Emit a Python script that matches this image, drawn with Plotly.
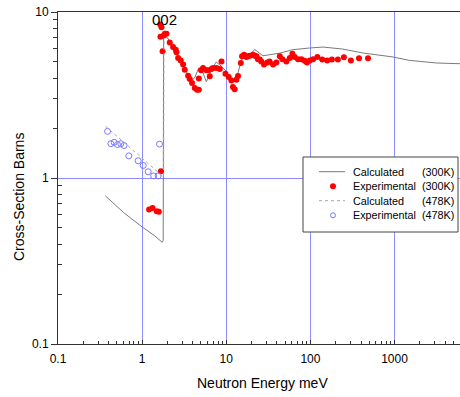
import math
import plotly.graph_objects as go

# ---------------- data ----------------
calc300_x = [0.366, 0.6, 1.0, 1.4, 1.73, 1.78, 1.80, 1.86, 2.0, 2.3, 2.6, 3.0, 3.5, 3.9,
             4.2, 4.7, 5.1, 5.8, 6.7, 7.6, 8.8, 10.0, 11.0, 12.0, 13.8, 15.1, 16.6,
             18.2, 19.0, 21.8, 23.8, 27.3, 43.3, 62.0, 98.2, 141, 243, 423, 956,
             1508, 3155, 6000]
calc300_y = [0.78, 0.62, 0.507, 0.45, 0.41, 0.42, 7.5, 7.2, 7.0, 6.2, 5.6, 4.9, 4.2, 3.9,
             4.0, 4.6, 4.5, 3.8, 4.5, 5.0, 4.7, 4.4, 4.0, 3.85, 4.3, 5.1, 5.65,
             5.45, 5.5, 5.95, 5.75, 5.45, 5.65, 5.93, 6.07, 6.15, 5.98, 5.66, 5.36,
             5.11, 4.93, 4.88]

exp300_x = [1.21, 1.33, 1.49, 1.58, 1.67, 1.64, 1.70, 1.65, 1.75, 1.81, 1.86, 1.95, 2.13,
            2.33, 2.51, 2.56, 2.68, 2.88, 3.07, 3.21, 3.52, 3.68, 3.92, 4.22, 4.5,
            4.72, 4.72, 5.02, 5.3, 5.82, 6.08, 6.37, 6.67, 6.97, 7.64, 8.38, 8.77,
            9.78, 10.7, 11.5, 12.0, 12.6, 13.2, 13.8, 14.9, 15.4, 16.3, 17.4, 18.1,
            19.0, 20.8, 21.8, 22.9, 23.8, 25.0, 26.1, 28.1, 30.7, 32.7, 36.0, 39.4,
            43.3, 46.5, 51.8, 56.9, 61.1, 65.0, 71.2, 78.1, 85.4, 91.0, 98.2, 107.7,
            121, 138, 158, 180, 212, 250, 303, 378, 484]
exp300_y = [0.645, 0.66, 0.63, 0.627, 1.10, 8.4, 8.1, 7.1, 5.8, 7.23, 7.4, 7.4, 6.56,
            6.15, 5.93, 5.73, 5.28, 5.11, 4.82, 4.49, 4.13, 3.95, 3.73, 3.48, 3.4,
            3.4, 3.97, 4.45, 4.6, 4.45, 4.45, 4.1, 4.53, 4.6, 4.6, 4.53, 5.04,
            4.25, 4.06, 3.87, 3.53, 3.43, 3.91, 4.12, 4.93, 5.41, 5.53, 5.36, 5.41,
            5.46, 5.53, 5.46, 5.41, 5.2, 5.17, 5.04, 4.82, 4.97, 5.04, 4.82, 4.97,
            5.41, 5.2, 5.04, 5.28, 5.6, 5.36, 5.2, 5.2, 5.09, 4.97, 5.11, 5.2,
            5.36, 5.17, 5.11, 5.17, 5.17, 5.33, 5.11, 5.27, 5.26]

calc478_x = [0.367, 1.0, 1.5, 1.72, 1.80, 1.82]
calc478_y = [2.05, 1.32, 1.10, 1.02, 1.02, 7.0]

exp478_x = [0.388, 0.425, 0.465, 0.51, 0.558, 0.61, 0.695, 0.897, 1.03, 1.18, 1.37, 1.55, 1.61]
exp478_y = [1.91, 1.61, 1.64, 1.59, 1.61, 1.57, 1.36, 1.27, 1.19, 1.09, 1.03, 1.03, 1.60]

x_tickvals = [0.1, 1, 10, 100, 1000]
x_ticktext = ["0.1", "1", "10", "100", "1000"]
y_tickvals = [0.1, 1, 10]
y_ticktext = ["0.1", "1", "10"]

legend_labels = ["Calculated", "Experimental", "Calculated", "Experimental"]
legend_temps = ["(300K)", "(300K)", "(478K)", "(478K)"]

# ---------------- style ----------------
FONT = "Liberation Sans, Arial, sans-serif"
GRID = "#8c8cff"
AXC = "#333333"
W, H = 460, 397
L, R, T, B = 58, 0, 12, 53
PW, PH = W - L - R, H - T - B


def px(xp):
    return (xp - L) / PW


def py(yp):
    return (H - B - yp) / PH


x_minor = [m * 10 ** k for k in range(-1, 4) for m in range(2, 10) if m * 10 ** k <= 6000]
y_minor_low = [m * 0.1 for m in range(2, 10)]
y_minor_high = [float(m) for m in range(2, 10)]

fig = go.Figure()
fig.add_trace(go.Scatter(x=calc300_x, y=calc300_y, mode="lines", name="c300",
                         line=dict(color="#7a7a7a", width=1)))
fig.add_trace(go.Scatter(x=exp300_x, y=exp300_y, mode="markers", name="e300",
                         marker=dict(color="#ff0000", size=6, line=dict(width=0))))
fig.add_trace(go.Scatter(x=calc478_x, y=calc478_y, mode="lines", name="c478",
                         yaxis="y2",
                         line=dict(color="#a8a8a8", width=1, dash="dot")))
fig.add_trace(go.Scatter(x=exp478_x, y=exp478_y, mode="markers", name="e478",
                         marker=dict(symbol="circle-open", color="#7878ff", size=6,
                                     line=dict(width=1))))

fig.update_layout(
    width=W, height=H,
    margin=dict(l=L, r=R, t=T, b=B, pad=0),
    paper_bgcolor="white", plot_bgcolor="white",
    font=dict(family=FONT, size=12, color="black"),
    showlegend=False,
    xaxis=dict(
        type="log", range=[-1, math.log10(6000)],
        tickmode="array", tickvals=x_tickvals, ticktext=x_ticktext,
        showgrid=True, gridcolor=GRID, gridwidth=1,
        showline=True, linecolor=AXC, linewidth=1, mirror=True,
        ticks="inside", ticklen=4, tickcolor=AXC, ticklabelstandoff=4,
        minor=dict(tickmode="array", tickvals=x_minor, ticks="inside", ticklen=3,
                   tickcolor=AXC, showgrid=False),
        tickfont=dict(size=12), zeroline=False,
    ),
    yaxis=dict(
        type="log", range=[-1, 1],
        tickmode="array", tickvals=y_tickvals, ticktext=y_ticktext,
        showgrid=True, gridcolor=GRID, gridwidth=1,
        showline=True, linecolor=AXC, linewidth=1,
        ticks="outside", ticklen=6, tickcolor=AXC,
        minor=dict(tickmode="array", tickvals=y_minor_low, ticks="inside", ticklen=4,
                   tickcolor=AXC, showgrid=False),
        tickfont=dict(size=12), zeroline=False,
    ),
    yaxis2=dict(type="log", range=[-1, 1], overlaying="y", side="left", anchor="x",
                showgrid=False, zeroline=False, showline=False,
                tickmode="array", tickvals=y_minor_high,
                ticks="outside", ticklen=4, tickcolor=AXC, showticklabels=False),
)

# annotations
fig.add_annotation(x=math.log10(1.84), y=math.log10(9.0), xref="x", yref="y",
                   text="002", showarrow=False, font=dict(size=15, family=FONT))
fig.add_annotation(x=px(262), y=py(383), xref="paper", yref="paper",
                   text="Neutron Energy meV", showarrow=False,
                   font=dict(size=14, family=FONT), yanchor="middle")
fig.add_annotation(x=px(19), y=py(197), xref="paper", yref="paper",
                   text="Cross-Section Barns", showarrow=False, textangle=-90,
                   font=dict(size=14, family=FONT), xanchor="center", yanchor="middle")

# ---------------- legend (drawn box) ----------------
shapes = [dict(type="rect", xref="paper", yref="paper",
               x0=px(303), x1=px(458), y0=py(232), y1=py(157),
               fillcolor="white", line=dict(color="#444444", width=1), layer="above")]
rows = [171.7, 186.2, 200.7, 215.3]
shapes.append(dict(type="line", xref="paper", yref="paper", x0=px(319), x1=px(345),
                   y0=py(rows[0]), y1=py(rows[0]), line=dict(color="#7a7a7a", width=1),
                   layer="above"))
shapes.append(dict(type="line", xref="paper", yref="paper", x0=px(319), x1=px(345),
                   y0=py(rows[2]), y1=py(rows[2]),
                   line=dict(color="#a8a8a8", width=1, dash="dot"), layer="above"))
shapes.append(dict(type="circle", xref="paper", yref="paper", xsizemode="pixel",
                   ysizemode="pixel", xanchor=px(333), yanchor=py(rows[1]),
                   x0=-3, x1=3, y0=-3, y1=3, fillcolor="#ff0000",
                   line=dict(width=0), layer="above"))
shapes.append(dict(type="circle", xref="paper", yref="paper", xsizemode="pixel",
                   ysizemode="pixel", xanchor=px(333), yanchor=py(rows[3]),
                   x0=-2.5, x1=2.5, y0=-2.5, y1=2.5, fillcolor="rgba(0,0,0,0)",
                   line=dict(color="#7878ff", width=1), layer="above"))
fig.update_layout(shapes=shapes)

for r, lab, tmp in zip(rows, legend_labels, legend_temps):
    fig.add_annotation(x=px(351), y=py(r), xref="paper", yref="paper", text=lab,
                       showarrow=False, xanchor="left", yanchor="middle",
                       font=dict(size=10.8, family=FONT))
    fig.add_annotation(x=px(456), y=py(r), xref="paper", yref="paper", text=tmp,
                       showarrow=False, xanchor="right", yanchor="middle",
                       font=dict(size=10.8, family=FONT))

fig.write_html("out.html", config={"displayModeBar": False},
               post_script="document.body.style.margin='0';document.body.style.overflow='hidden';")
